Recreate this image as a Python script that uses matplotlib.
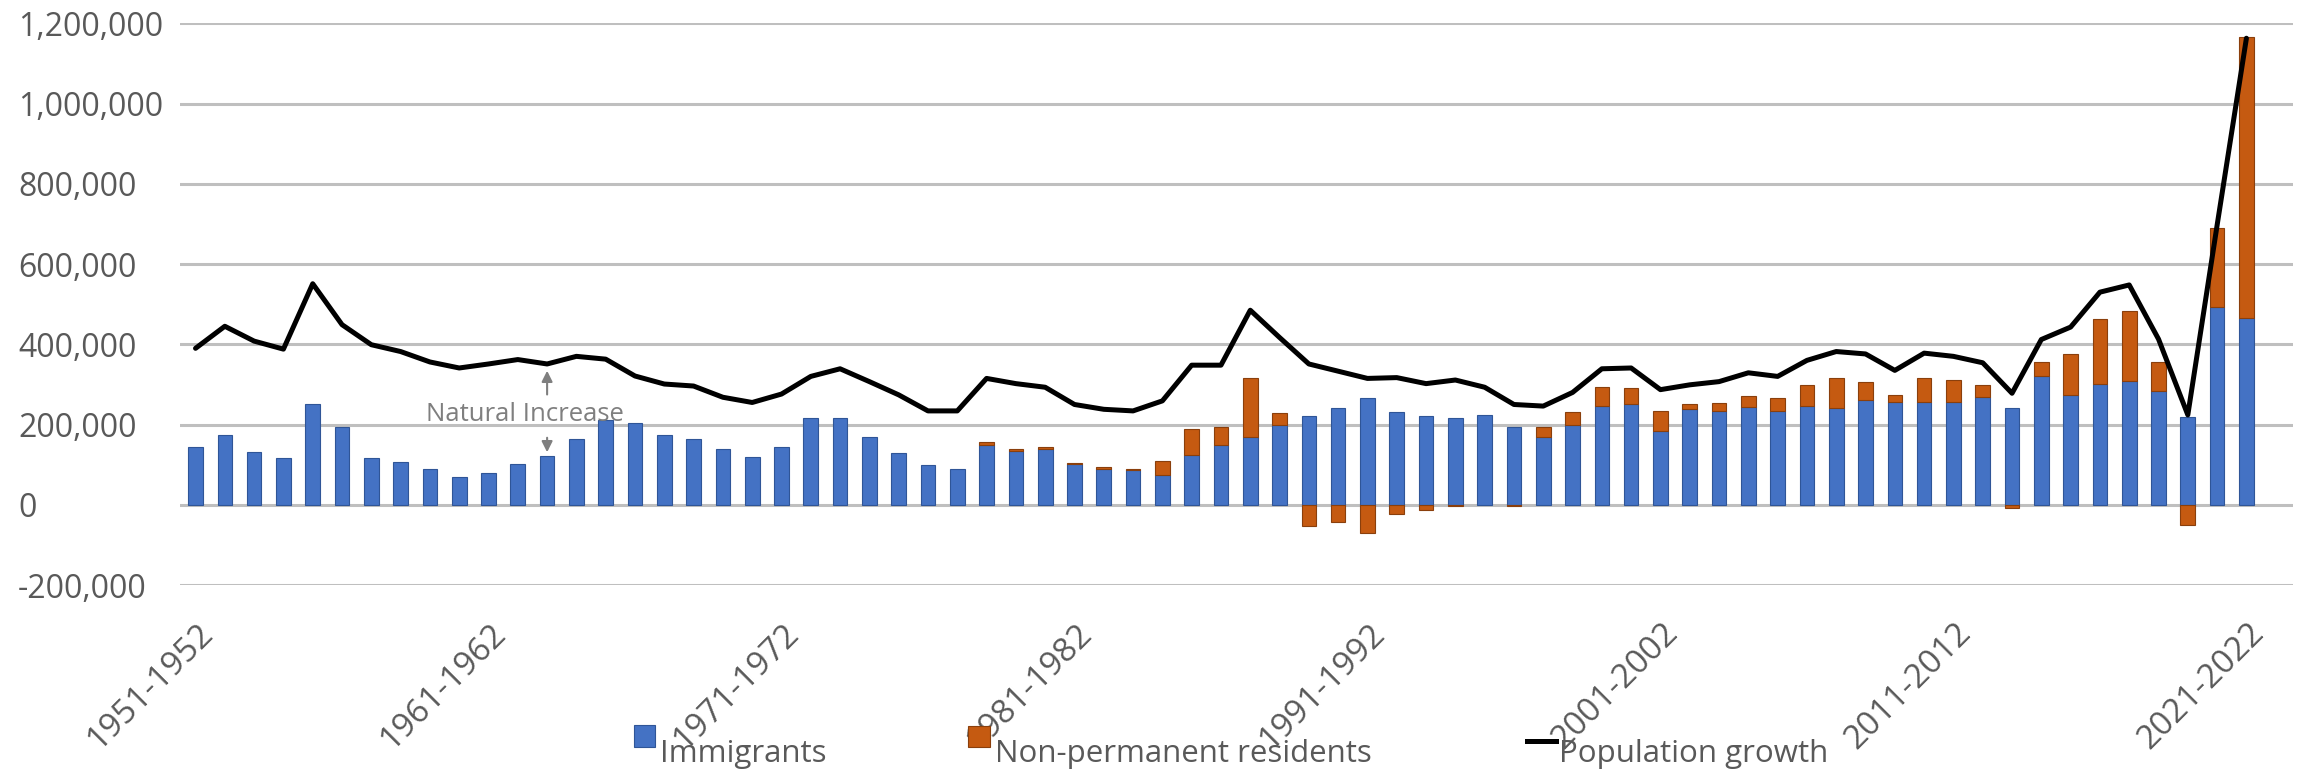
import numpy as np
import matplotlib
matplotlib.use("Agg")
import matplotlib.pyplot as plt
from matplotlib.patches import Rectangle
from matplotlib.lines import Line2D
from matplotlib.transforms import ScaledTranslation

plt.rcParams['font.family'] = ['Open Sans', 'DejaVu Sans']

# ---------------- data ----------------
start_years = list(range(1951, 2022))
periods = [f"{y}-{y + 1}" for y in start_years]

immigrants = np.array([
    143, 174, 132, 116, 251, 193, 116, 106, 88, 70,
    78, 102, 122, 165, 212, 204, 173, 163, 138, 118,
    145, 217, 217, 170, 128, 100, 89, 150, 135, 140,
    101, 90, 86, 75, 125, 150, 169, 199, 221, 241,
    266, 232, 221, 216, 225, 195, 168, 198, 246, 250,
    185, 238, 235, 244, 234, 246, 240, 262, 256, 256,
    256, 268, 241, 320, 274, 301, 308, 284, 219, 493,
    466]) * 1000

non_permanent = np.array([
    0, 0, 0, 0, 0, 0, 0, 0, 0, 0,
    0, 0, 0, 0, 0, 0, 0, 0, 0, 0,
    0, 0, 0, 0, 0, 0, 0, 6, 5, 5,
    4, 4, 2, 35, 63, 44, 148, 31, -54, -43,
    -70, -22, -13, -3, 0, -2, 27, 34, 47, 40,
    50, 12, 19, 28, 32, 53, 77, 45, 18, 59,
    55, 31, -8, 37, 102, 162, 174, 73, -50, 196,
    700]) * 1000

population_growth = np.array([
    390, 445, 408, 388, 551, 449, 399, 382, 356, 341,
    351, 362, 351, 370, 363, 321, 301, 296, 268, 255,
    276, 320, 339, 307, 274, 234, 234, 315, 302, 293,
    250, 238, 234, 259, 348, 348, 485, 417, 351, 333,
    315, 317, 302, 311, 293, 250, 246, 280, 339, 341,
    287, 299, 307, 329, 320, 360, 382, 376, 335, 378,
    370, 354, 278, 412, 443, 530, 548, 413, 224, 697,
    1163]) * 1000

y_ticks = [-200000, 0, 200000, 400000, 600000, 800000, 1000000, 1200000]
series_names = ["Immigrants", "Non-permanent residents", "Population growth"]
annotation_text = "Natural Increase"

# ---------------- style ----------------
BLUE = '#4472C4'
BLUE_EDGE = '#2F5597'
ORANGE = '#C55A11'
ORANGE_EDGE = '#8A3F0C'
TEXT = '#595959'
GRID = '#BFBFBF'

W, H = 2302, 771
fig = plt.figure(figsize=(W / 100, H / 100), dpi=100)
ax_left, ax_right, ax_top, ax_bottom = 180, 2293, 23.4, 585
ax = fig.add_axes([ax_left / W, 1 - ax_bottom / H,
                   (ax_right - ax_left) / W, (ax_bottom - ax_top) / H])

x = np.arange(len(periods))
ax.bar(x, immigrants, width=0.5, color=BLUE, edgecolor=BLUE_EDGE,
       linewidth=0.8, zorder=2)
nz = non_permanent != 0
npr_bottom = np.where(non_permanent > 0, immigrants, 0)
ax.bar(x[nz], non_permanent[nz], width=0.5, bottom=npr_bottom[nz],
       color=ORANGE, edgecolor=ORANGE_EDGE, linewidth=0.8, zorder=2)
ax.plot(x, population_growth, color='black', lw=3.6, zorder=3,
        solid_joinstyle='round', solid_capstyle='round')

ax.set_xlim(-0.53, 71.59)
ax.set_ylim(-200000, 1200000)
ax.set_yticks(y_ticks)
ax.set_yticklabels([f"{v:,}" for v in y_ticks])
ax.yaxis.grid(True, color=GRID, lw=2.2)
ax.set_axisbelow(True)
for s in ax.spines.values():
    s.set_visible(False)

ax.tick_params(axis='y', length=0, pad=116.6, labelsize=23, labelcolor=TEXT)
for lbl in ax.get_yticklabels():
    lbl.set_horizontalalignment('left')

ax.set_xticks(x[::10])
ax.set_xticklabels(periods[::10], rotation=45, ha='right', va='center',
                   rotation_mode='anchor')
ax.tick_params(axis='x', length=0, pad=31, labelsize=24, labelcolor=TEXT)
off = ScaledTranslation(13 / 100, 0, fig.dpi_scale_trans)
for lbl in ax.get_xticklabels():
    lbl.set_transform(lbl.get_transform() + off)

# Natural increase annotation
ANN = '#7F7F7F'
ax.text(11.25, 226000, annotation_text, ha='center', va='center',
        fontsize=18.5, color=ANN, zorder=4)
ax.annotate('', xy=(12, 341000), xytext=(12, 268000),
            arrowprops=dict(arrowstyle='-|>', color=ANN, lw=1.5,
                            mutation_scale=16), zorder=4)
ax.annotate('', xy=(12, 124000), xytext=(12, 174000),
            arrowprops=dict(arrowstyle='-|>', color=ANN, lw=1.5,
                            mutation_scale=16), zorder=4)

# Legend (drawn in figure pixel positions)
def fx(px):
    return px / W

def fy(py):
    return 1 - py / H

fig.add_artist(Rectangle((fx(634), fy(747)), 21 / W, 22 / H,
                         transform=fig.transFigure, facecolor=BLUE,
                         edgecolor=BLUE_EDGE, lw=0.8))
fig.add_artist(Rectangle((fx(968), fy(747)), 22 / W, 21 / H,
                         transform=fig.transFigure, facecolor=ORANGE,
                         edgecolor=ORANGE_EDGE, lw=0.8))
fig.add_artist(Line2D([fx(1527), fx(1556)], [fy(741), fy(741)],
                      transform=fig.transFigure, color='black', lw=3.6))
for name, px in zip(series_names, [660, 995, 1559]):
    fig.text(fx(px), fy(762), name, ha='left', va='baseline',
             fontsize=22.5, color=TEXT)

fig.savefig('out.png', dpi=100)
